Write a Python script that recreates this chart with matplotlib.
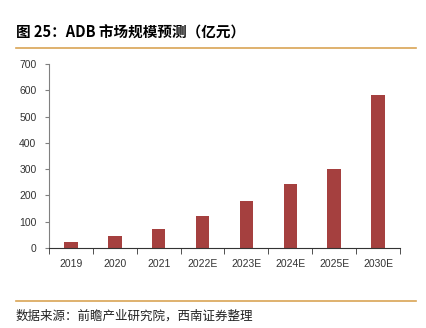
import numpy as np
import matplotlib
matplotlib.use("Agg")
from matplotlib import pyplot as plt
from matplotlib.lines import Line2D

plt.rcParams['font.family'] = ['Noto Sans CJK SC', 'DejaVu Sans']

# data
years = ["2019", "2020", "2021", "2022E", "2023E", "2024E", "2025E", "2030E"]
market = [23, 46, 72, 122, 179, 243, 300, 583]

barColor = "#A5403F"
axisColor = "#808080"

fig = plt.figure(figsize=(4.27, 3.28), dpi=100)
ax = fig.add_axes([49/427, 80/328, 351/427, 184/328])

x = np.arange(len(years))
ax.bar(x, market, width=0.31, color=barColor)

ax.set_xlim(-0.5, len(years) - 0.5)
ax.set_ylim(0, 700)
ax.set_yticks(range(0, 701, 100))
ax.set_xticks(x)
ax.set_xticklabels(years, fontsize=7.5, family=['Liberation Sans', 'DejaVu Sans'], color="#333333")
ax.tick_params(axis='x', length=0, pad=8)
ax.set_xticks(np.arange(-0.5, len(years)), minor=True)
ax.tick_params(axis='x', which='minor', length=4, direction='out', color="#333333")
ax.tick_params(axis='y', labelsize=7.5, length=3, direction='out', color=axisColor, labelcolor="#333333", pad=6)
for lab in ax.get_yticklabels():
    lab.set_family(['Liberation Sans', 'DejaVu Sans'])

for s in ['top', 'right']:
    ax.spines[s].set_visible(False)
ax.spines['left'].set_color(axisColor)
ax.spines['bottom'].set_color("#333333")

# title and rules
fig.text(16/427, 1 - 33/328, "图 25：ADB 市场规模预测（亿元）", fontsize=10.5, fontweight='bold', va='center', ha='left')
fig.add_artist(Line2D([16/427, 416/427], [1 - 48/328, 1 - 48/328], color="#D9A455", lw=1.2))
fig.add_artist(Line2D([16/427, 416/427], [1 - 301/328, 1 - 301/328], color="#D9A455", lw=1.2))
fig.text(16/427, 1 - 316/328, "数据来源：前瞻产业研究院，西南证券整理", fontsize=9, style='italic', va='center', ha='left', color="#222222")

fig.savefig("out.png", dpi=100)
